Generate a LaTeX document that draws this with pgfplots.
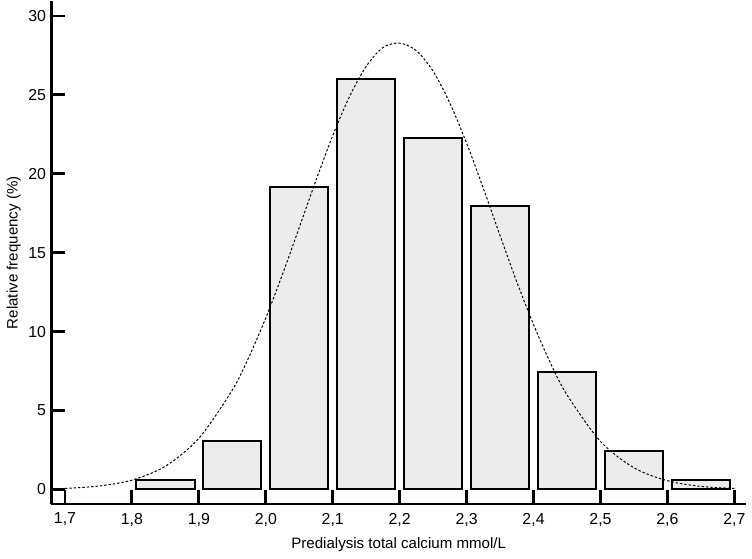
\documentclass[border=0pt]{standalone}
\usepackage{fontspec}
\setmainfont{Liberation Sans}
\usepackage{pgfplots}
\pgfplotsset{compat=1.18}
\begin{document}
\begin{tikzpicture}
\begin{axis}[
    x=337pt, y=7.945pt,
    xmin=1.6792, xmax=2.7178,
    ymin=-0.925, ymax=30.92,
    axis x line=bottom, axis y line=left,
    axis line style={-, line width=1.5pt},
    xtick={1.7,1.8,1.9,2.0,2.1,2.2,2.3,2.4,2.5,2.6,2.7},
    ytick={0,5,10,15,20,25,30},
    tick align=inside,
    major tick length=7pt,
    every tick/.style={black, line width=1.5pt},
    minor tick num=0,
    /pgf/number format/assume math mode=true,
    xticklabel style={/pgf/number format/.cd, fixed, fixed zerofill, precision=1, use comma, /tikz/.cd, yshift=-1pt},
    yticklabel style={/pgf/number format/.cd, fixed, precision=0, /tikz/.cd, xshift=1pt},
    tick label style={font=\fontsize{8}{9}\selectfont},
    label style={font=\fontsize{7.6}{9}\selectfont},
    xlabel={Predialysis total calcium mmol/L},
    ylabel={Relative frequency (\%)},
    xlabel style={yshift=1pt},
    ylabel style={yshift=-3pt},
    clip=false,
]
\addplot[ybar, bar width=0.087, draw=black, line width=1pt, fill={rgb,255:red,236;green,236;blue,236}]
    coordinates {(1.85,0.60) (1.95,3.08) (2.05,19.17) (2.15,26.01) (2.25,22.28)
                 (2.35,17.95) (2.45,7.43) (2.55,2.45) (2.65,0.60)};
\addplot[black, line width=0.5pt, dash pattern=on 1.2pt off 1pt, smooth]
    coordinates {(1.70,0.066) (1.75,0.21) (1.80,0.59) (1.85,1.47) (1.90,3.24)
                 (1.95,6.30) (1.975,8.41) (2.00,10.87) (2.025,13.64) (2.05,16.60)
                 (2.075,19.59) (2.10,22.42) (2.125,24.89) (2.15,26.81) (2.175,28.00)
                 (2.20,28.28) (2.225,27.80) (2.25,26.50) (2.275,24.48) (2.30,21.94)
                 (2.325,19.08) (2.35,16.08) (2.375,13.15) (2.40,10.44) (2.425,8.03)
                 (2.45,5.99) (2.50,3.04) (2.55,1.37) (2.60,0.55) (2.65,0.19) (2.70,0.06)};
\end{axis}
\end{tikzpicture}
\end{document}
